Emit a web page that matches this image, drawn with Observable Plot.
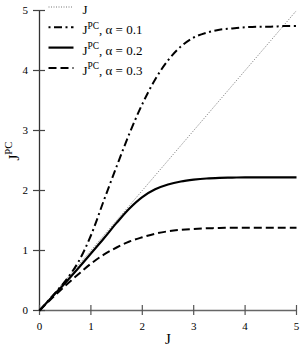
<!DOCTYPE html>
<html>
<head>
<meta charset="utf-8">
<script src="https://cdn.jsdelivr.net/npm/d3@7"></script>
<script src="https://cdn.jsdelivr.net/npm/@observablehq/plot@0.6"></script>
<style>
  html, body { margin: 0; padding: 0; background: #fff; }
  #chart svg { font-family: "Liberation Serif", "DejaVu Serif", "Times New Roman", Times, serif !important; font-size: 11px; background: #fff; color: #000; }
  #chart svg text, #chart svg g { font-family: "Liberation Serif", "DejaVu Serif", "Times New Roman", Times, serif !important; }
</style>
</head>
<body>
<div id="chart"></div>
<script>
// ---- data ----
const J = [0, 0.25, 0.5, 0.75, 1, 1.25, 1.5, 1.75, 2, 2.25, 2.5, 2.75, 3, 3.25, 3.5, 3.75, 4, 4.25, 4.5, 4.75, 5];
const jLine = [0, 0.25, 0.5, 0.75, 1, 1.25, 1.5, 1.75, 2, 2.25, 2.5, 2.75, 3, 3.25, 3.5, 3.75, 4, 4.25, 4.5, 4.75, 5];
const jpcA01 = [0, 0.24, 0.49, 0.80, 1.25, 1.83, 2.40, 2.95, 3.44, 3.85, 4.17, 4.40, 4.55, 4.63, 4.68, 4.70, 4.72, 4.73, 4.73, 4.74, 4.74];
const jpcA02 = [0, 0.23, 0.46, 0.70, 0.95, 1.20, 1.46, 1.70, 1.89, 2.02, 2.10, 2.15, 2.18, 2.20, 2.21, 2.215, 2.22, 2.22, 2.22, 2.22, 2.22];
const jpcA03 = [0, 0.21, 0.41, 0.60, 0.78, 0.93, 1.05, 1.15, 1.22, 1.28, 1.32, 1.345, 1.36, 1.37, 1.375, 1.38, 1.38, 1.38, 1.38, 1.38, 1.38];
const xTicks = [0, 1, 2, 3, 4, 5];
const yTicks = [0, 1, 2, 3, 4, 5];
const seriesLabels = ["J", "J^PC, α = 0.1", "J^PC, α = 0.2", "J^PC, α = 0.3"];
const xTitle = "J";
const yTitle = "J^PC";

// ---- styles (kept apart from data) ----
const FONT = "Liberation Serif, DejaVu Serif, Times New Roman, serif";
const seriesStyles = [
  {stroke: "#777", strokeWidth: 1, strokeDasharray: "1,1.5", legendOffset: 0},
  {stroke: "#000", strokeWidth: 2, strokeDasharray: "8,3.5,2,3.5", legendOffset: 11.5},
  {stroke: "#000", strokeWidth: 2.2, strokeDasharray: null, legendOffset: 0},
  {stroke: "#000", strokeWidth: 2, strokeDasharray: "8,4", legendOffset: 0}
];
const seriesValues = [jLine, jpcA01, jpcA02, jpcA03];

const tables = seriesValues.map((vals, s) => J.map((j, i) => ({J: j, v: vals[i], s})));

const marks = [];
// axis lines
marks.push(Plot.ruleY([0], {stroke: "#666", strokeWidth: 1.5}));
marks.push(Plot.ruleX([0], {stroke: "#333", strokeWidth: 1.3}));
// ticks crossing axis lines
marks.push(Plot.ruleX(xTicks, {x: d => d, y1: 0, y2: 0, insetTop: 5, insetBottom: 5, stroke: "#555", strokeWidth: 1.2}));
marks.push(Plot.ruleY(yTicks, {y: d => d, x1: 0, x2: 0, insetLeft: 6, insetRight: 6, stroke: "#444", strokeWidth: 1.2}));
// tick labels
marks.push(Plot.axisX({ticks: xTicks, tickSize: 0, tickPadding: 12, label: null, tickFormat: d => String(d), fontSize: 11, fontFamily: FONT}));
marks.push(Plot.axisY({ticks: yTicks, tickSize: 0, tickPadding: 11.5, label: null, tickFormat: d => String(d), fontSize: 11, fontFamily: FONT}));

// series lines
tables.forEach((t, s) => {
  const st = seriesStyles[s];
  marks.push(Plot.line(t, {
    x: "J", y: "v", curve: "catmull-rom",
    stroke: st.stroke, strokeWidth: st.strokeWidth,
    strokeDasharray: st.strokeDasharray, strokeLinecap: "butt"
  }));
});

// legend (top-left inside the frame)
const rowBase = [13.5, 33.8, 54.1, 74.4];
seriesLabels.forEach((lab, s) => {
  const st = seriesStyles[s];
  marks.push(Plot.vector([lab], {
    frameAnchor: "top-left", dx: 9, dy: rowBase[s] - 7 - 10,
    rotate: 90, length: 25, anchor: "start", r: 0,
    stroke: st.stroke, strokeWidth: st.strokeWidth,
    strokeDasharray: st.strokeDasharray, strokeDashoffset: st.legendOffset, strokeLinecap: "butt"
  }));
  marks.push(Plot.text([lab], {
    frameAnchor: "top-left", dx: 43, dy: rowBase[s] - 10,
    text: d => d, textAnchor: "start", lineAnchor: "bottom", fontSize: 13, fontFamily: FONT, fill: "#000"
  }));
});

// axis titles
marks.push(Plot.text([xTitle], {frameAnchor: "bottom", dy: 33, text: d => d, lineAnchor: "bottom", fontSize: 15, fontFamily: FONT, fill: "#000"}));
marks.push(Plot.text([yTitle], {frameAnchor: "left", dx: -21, rotate: -90, text: d => d, lineAnchor: "bottom", fontSize: 15, fontFamily: FONT, fill: "#000"}));

const chart = Plot.plot({
  width: 300,
  height: 346,
  marginLeft: 39,
  marginRight: 4,
  marginTop: 10,
  marginBottom: 36,
  x: {domain: [0, 5], axis: null},
  y: {domain: [0, 5], axis: null},
  style: {fontFamily: FONT, fontSize: "11px", background: "#fff", color: "#000"},
  marks
});
document.getElementById("chart").appendChild(chart);

// superscript "PC" as real tspans
const NS = "http://www.w3.org/2000/svg";
chart.querySelectorAll("text").forEach(t => {
  const s = t.textContent;
  if (!s.includes("^PC")) return;
  const fs = parseFloat(getComputedStyle(t).fontSize) || 13;
  const [a, b] = s.split("^PC");
  t.textContent = "";
  const t1 = document.createElementNS(NS, "tspan");
  t1.textContent = a;
  t.appendChild(t1);
  const t2 = document.createElementNS(NS, "tspan");
  t2.textContent = "PC";
  t2.setAttribute("font-size", (fs * 0.72).toFixed(1) + "px");
  t2.setAttribute("dy", (-fs * 0.42).toFixed(1));
  t.appendChild(t2);
  if (b) {
    const t3 = document.createElementNS(NS, "tspan");
    t3.textContent = b;
    t3.setAttribute("dy", (fs * 0.42).toFixed(1));
    t.appendChild(t3);
  }
});
</script>
</body>
</html>
